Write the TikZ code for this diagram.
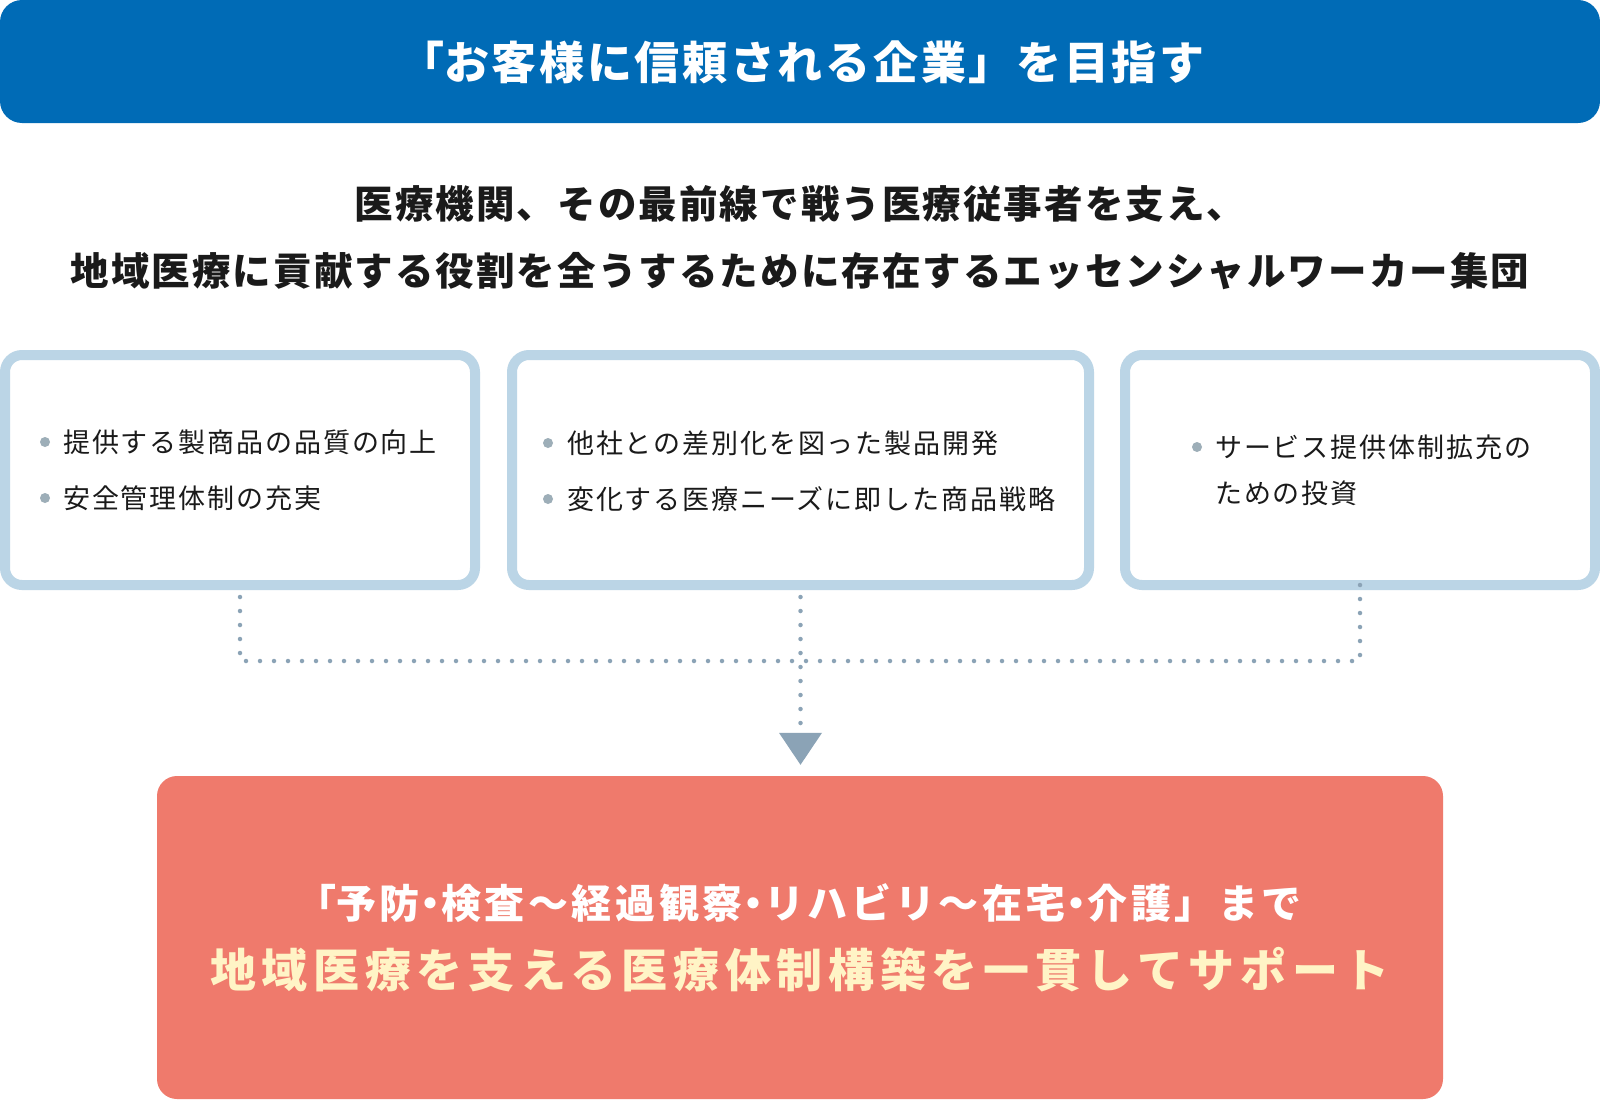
\documentclass[tikz,border=0pt]{standalone}
\usepackage{fontspec}
\usetikzlibrary{arrows.meta}
\newfontfamily\jpTitle{Noto Sans CJK JP}[LetterSpace=6]
\newfontfamily\jpHead{Noto Sans CJK JP}[LetterSpace=5.4]
\newfontfamily\jpList{Noto Sans CJK JP}[LetterSpace=7]
\newfontfamily\jpRedA{Noto Sans CJK JP}[LetterSpace=9]
\newfontfamily\jpRedB{Noto Sans CJK JP}[LetterSpace=12.3]
\definecolor{barblue}{HTML}{006BB6}
\definecolor{boxline}{HTML}{BBD5E6}
\definecolor{dotc}{HTML}{8BA3B6}
\definecolor{bulletc}{HTML}{9DAEB8}
\definecolor{redbox}{HTML}{EF7A6C}
\definecolor{cream}{HTML}{FFF4C6}
\definecolor{ink}{HTML}{1A1A1A}
\newcommand{\halfdot}{\makebox[0.54em][c]{・}}
\tikzset{
  titlebar/.style={fill=barblue, rounded corners=22pt, minimum width=1600pt, minimum height=123pt, inner sep=0pt},
  headtext/.style={inner sep=0pt, text=ink, font=\jpHead\bfseries\fontsize{38.5pt}{46pt}\selectfont},
  itembox/.style={draw=boxline, line width=10pt, fill=white, rounded corners=17pt, minimum height=230pt, inner sep=0pt},
  itemtext/.style={anchor=west, inner sep=0pt, text=ink, align=left, font=\jpList\fontsize{27pt}{46pt}\selectfont},
  bulletdot/.style={circle, fill=bulletc, minimum size=10pt, inner sep=0pt},
  dotline/.style={draw=dotc, line width=4.5pt, line cap=round, dash pattern=on 0pt off 14pt},
  goalbox/.style={fill=redbox, rounded corners=20pt, minimum width=1286pt, minimum height=323pt, inner sep=0pt},
}
\begin{document}
\begin{tikzpicture}[x=1pt,y=-1pt]
\useasboundingbox (0,0) rectangle (1600,1100);
\fill[white] (0,0) rectangle (1600,1100);

\node[titlebar] (title) at (800,61.5) {};
\node[inner sep=0pt, text=white, font=\jpTitle\bfseries\fontsize{45pt}{54pt}\selectfont] (titletext) at (813,62)
  {\makebox[0.5em][r]{「}お客様に信頼される企業」を目指す};

\node[headtext] (head1) at (800,204) {医療機関、その最前線で戦う医療従事者を支え、};
\node[headtext] (head2) at (800,271) {地域医療に貢献する役割を全うするために存在するエッセンシャルワーカー集団};

\node[itembox, minimum width=470pt] (b1) at (240,470) {};
\node[itembox, minimum width=577pt] (b2) at (800.5,470) {};
\node[itembox, minimum width=470pt] (b3) at (1360,470) {};

\node[bulletdot] (d11) at (45,442) {};
\node[itemtext] (t11) at (63,442) {提供する製商品の品質の向上};
\node[bulletdot] (d12) at (45,498) {};
\node[itemtext] (t12) at (63,498) {安全管理体制の充実};

\node[bulletdot] (d21) at (548,443) {};
\node[itemtext] (t21) at (567,443) {他社との差別化を図った製品開発};
\node[bulletdot] (d22) at (548,499) {};
\node[itemtext] (t22) at (567,499) {変化する医療ニーズに即した商品戦略};

\node[bulletdot] (d31) at (1197,447) {};
\node[itemtext] (t31) at (1215,470) {サービス提供体制拡充の\\ための投資};

\node[goalbox] (goal) at (800,937.5) {};
\node[inner sep=0pt, text=white, font=\jpRedA\bfseries\fontsize{40pt}{46pt}\selectfont] (goal1) at (810,903)
  {\makebox[0.45em][r]{「}予防\halfdot 検査～経過観察\halfdot リハビリ～在宅\halfdot 介護」まで};
\node[inner sep=0pt, text=cream, font=\jpRedB\bfseries\fontsize{46pt}{54pt}\selectfont] (goal2) at (800,970)
  {地域医療を支える医療体制構築を一貫してサポート};

\coordinate (join) at (b2.south |- 0,661);
\coordinate (tip) at ([yshift=11pt]goal.north -| b2.south);
\draw[dotline, shorten <=7pt] (b1.south) -- (b1.south |- join) -- (b3.south |- join) -- ([yshift=7pt]b3.south);
\draw[dotline, shorten <=7pt, shorten >=34pt] (b2.south) -- (tip);
\fill[dotc] (tip) -- ([shift={(-21.5pt,32pt)}]tip) -- ([shift={(21.5pt,32pt)}]tip) -- cycle;
\end{tikzpicture}
\end{document}
